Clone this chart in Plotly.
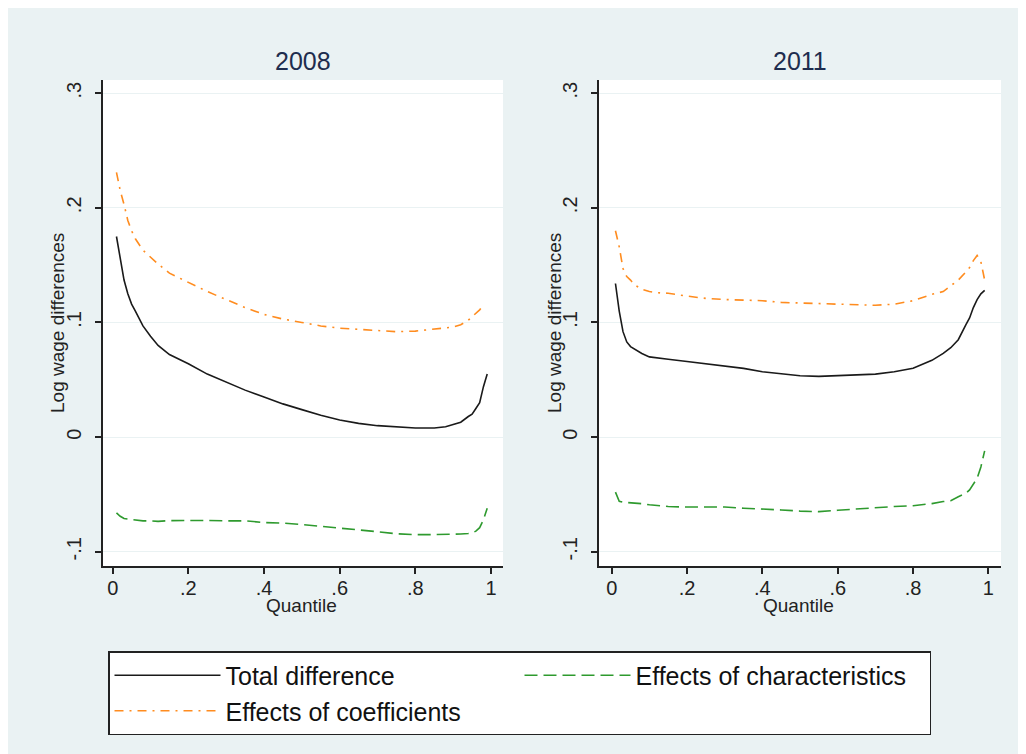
import plotly.graph_objects as go

# ---------------- data ----------------
quantiles = [0.01, 0.02, 0.03, 0.04, 0.05, 0.06, 0.08, 0.10, 0.12, 0.15, 0.20, 0.25,
             0.30, 0.35, 0.40, 0.45, 0.50, 0.55, 0.60, 0.65, 0.70, 0.75, 0.80, 0.85,
             0.88, 0.90, 0.92, 0.94, 0.95, 0.96, 0.97, 0.98, 0.99]

total_2008 = [0.175, 0.155, 0.137, 0.125, 0.116, 0.110, 0.097, 0.088, 0.080, 0.072, 0.064, 0.055,
              0.048, 0.041, 0.035, 0.029, 0.024, 0.019, 0.015, 0.012, 0.010, 0.009, 0.008, 0.008,
              0.009, 0.011, 0.013, 0.018, 0.020, 0.025, 0.030, 0.044, 0.055]
charac_2008 = [-0.066, -0.069, -0.071, -0.0715, -0.072, -0.0725, -0.073, -0.073, -0.0735, -0.0728, -0.0725, -0.0727,
               -0.073, -0.073, -0.0745, -0.075, -0.0762, -0.0777, -0.079, -0.0805, -0.0825, -0.0843, -0.085, -0.085,
               -0.085, -0.085, -0.0845, -0.084, -0.0836, -0.082, -0.079, -0.072, -0.062]
coef_2008 = [0.231, 0.215, 0.203, 0.189, 0.180, 0.173, 0.163, 0.157, 0.151, 0.143, 0.135, 0.127,
             0.120, 0.113, 0.107, 0.103, 0.100, 0.097, 0.095, 0.094, 0.093, 0.092, 0.0925, 0.094,
             0.095, 0.096, 0.098, 0.102, 0.105, 0.108, 0.111, 0.115, None]

total_2011 = [0.134, 0.110, 0.092, 0.083, 0.079, 0.077, 0.073, 0.070, 0.069, 0.068, 0.066, 0.064,
              0.062, 0.060, 0.057, 0.055, 0.0535, 0.053, 0.0535, 0.054, 0.055, 0.057, 0.060, 0.067,
              0.073, 0.078, 0.085, 0.098, 0.104, 0.113, 0.120, 0.125, 0.128]
charac_2011 = [-0.048, -0.056, -0.0568, -0.057, -0.0572, -0.0575, -0.058, -0.059, -0.0598, -0.0605, -0.061, -0.061,
               -0.061, -0.062, -0.0625, -0.0635, -0.0645, -0.065, -0.0638, -0.0625, -0.0612, -0.0605, -0.0598, -0.058,
               -0.0562, -0.0555, -0.052, -0.049, -0.046, -0.041, -0.036, -0.026, -0.012]
coef_2011 = [0.180, 0.166, 0.147, 0.140, 0.137, 0.133, 0.129, 0.127, 0.126, 0.1255, 0.123, 0.121,
             0.120, 0.1195, 0.119, 0.1175, 0.117, 0.116, 0.1155, 0.115, 0.115, 0.116, 0.119, 0.1245,
             0.127, 0.132, 0.137, 0.144, 0.148, 0.154, 0.1585, 0.153, 0.137]

panel_titles = ["2008", "2011"]
series_names = ["Total difference", "Effects of characteristics", "Effects of coefficients"]
x_tickvals = [0, 0.2, 0.4, 0.6, 0.8, 1]
x_ticktext = ["0", ".2", ".4", ".6", ".8", "1"]
y_tickvals = [-0.1, 0, 0.1, 0.2, 0.3]
y_ticktext = ["-.1", "0", ".1", ".2", ".3"]

# ---------------- styling ----------------
FONT = "Arial, Liberation Sans, sans-serif"
BG = "#EAF2F3"
C_TOTAL = "#1a1a1a"
C_CHAR = "#2E9A2E"
C_COEF = "#FF8C1F"
styles = [
    dict(color=C_TOTAL, width=1.6, dash="solid"),
    dict(color=C_CHAR, width=1.6, dash="13px,6px"),
    dict(color=C_COEF, width=1.6, dash="9px,6px,2px,6px"),
]

W, H = 1026, 754
OX, OY = 8, 8  # page offset of the figure


def px(x):
    return (x - OX) / W


def py(y):
    return 1 - (y - OY) / H


fig = go.Figure()
panels = [
    ("x", "y", [total_2008, charac_2008, coef_2008]),
    ("x2", "y2", [total_2011, charac_2011, coef_2011]),
]
for pi, (xa, ya, series) in enumerate(panels):
    for si, vals in enumerate(series):
        fig.add_trace(go.Scatter(
            x=quantiles, y=vals, mode="lines", name=series_names[si],
            line=styles[si], xaxis=xa, yaxis=ya,
            showlegend=(pi == 0), connectgaps=False,
        ))

xaxis_common = dict(
    tickvals=x_tickvals, ticktext=x_ticktext, showgrid=False, zeroline=False,
    showline=True, linecolor="#222", linewidth=1.5, ticks="outside", ticklen=6,
    tickwidth=1.5, tickcolor="#222", tickfont=dict(size=20, color="#222", family=FONT),
    ticklabelstandoff=-3, automargin=False,
)
yaxis_common = dict(
    tickvals=y_tickvals, ticktext=y_ticktext, range=[-0.1124, 0.3115],
    showgrid=True, gridcolor=BG, gridwidth=1.2, zeroline=False,
    showline=True, linecolor="#222", linewidth=1.5, ticks="outside", ticklen=6,
    tickwidth=1.5, tickcolor="#222", tickangle=-90,
    tickfont=dict(size=20, color="#222", family=FONT), ticklabelstandoff=6, automargin=False,
)
ydom = [py(566), py(80)]
fig.update_layout(
    xaxis=dict(domain=[px(103), px(503)], range=[-0.0256, 1.0317], anchor="y", **xaxis_common),
    yaxis=dict(domain=ydom, anchor="x", **yaxis_common),
    xaxis2=dict(domain=[px(599), px(1001)], range=[-0.0337, 1.0334], anchor="y2", **xaxis_common),
    yaxis2=dict(domain=ydom, anchor="x2", **yaxis_common),
)

annotations = []
for cx, title in zip([303, 800], panel_titles):
    annotations.append(dict(text=title, x=px(cx), y=py(61), xref="paper", yref="paper",
                            showarrow=False, xanchor="center", yanchor="middle",
                            font=dict(size=25, color="#1E2D4E", family=FONT)))
    annotations.append(dict(text="Quantile", x=px(cx - 2), y=py(605), xref="paper", yref="paper",
                            showarrow=False, xanchor="center", yanchor="middle",
                            font=dict(size=19, color="#222", family=FONT)))
for lx in [58, 555]:
    annotations.append(dict(text="Log wage differences", x=px(lx), y=py(323), xref="paper", yref="paper",
                            showarrow=False, xanchor="center", yanchor="middle", textangle=-90,
                            font=dict(size=19, color="#222", family=FONT)))

fig.update_layout(
    width=W, height=H, margin=dict(l=0, r=0, t=0, b=0),
    paper_bgcolor=BG, plot_bgcolor="white",
    font=dict(family=FONT, color="#222"),
    annotations=annotations,
    legend=dict(
        orientation="h", x=px(108), xanchor="left", y=py(651), yanchor="top",
        bgcolor="white", bordercolor="#222", borderwidth=1.5,
        font=dict(size=25, color="#111", family=FONT),
        entrywidth=289, entrywidthmode="pixels", itemwidth=106, traceorder="normal",
    ),
)

fig.write_html("out.html")
